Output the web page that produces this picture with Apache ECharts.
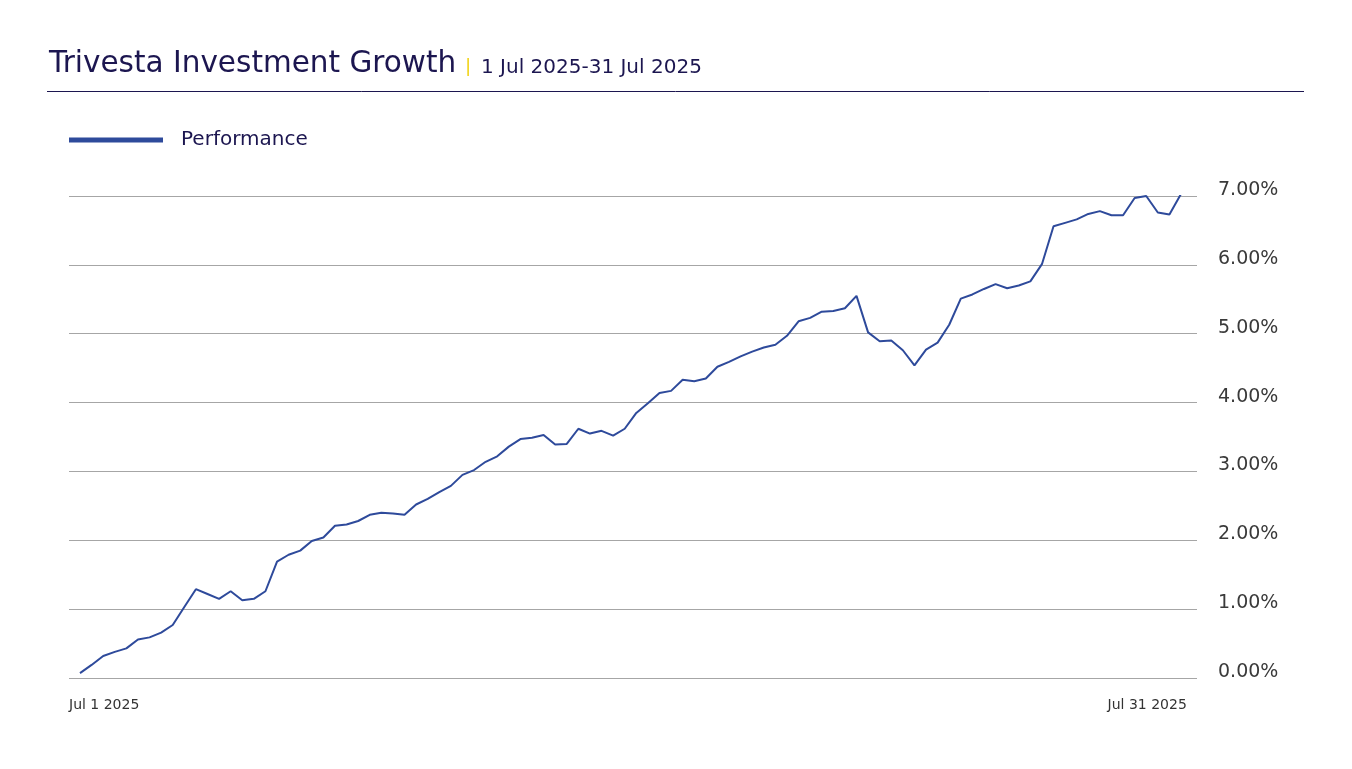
<!DOCTYPE html>
<html>
<head>
<meta charset="utf-8">
<script src="https://cdn.jsdelivr.net/npm/echarts@6/dist/echarts.min.js"></script>
<style>
  html, body { margin: 0; padding: 0; background: #ffffff; }
  #chart { width: 1352px; height: 769px; }
</style>
</head>
<body>
<div id="chart"></div>
<script>
// ---- Data ----
const titleText = 'Trivesta Investment Growth';
const subtitleText = '1 Jul 2025-31 Jul 2025';
const seriesName = 'Performance';
const xLabels = ['Jul 1 2025', 'Jul 31 2025'];
const yTicks = [0, 1, 2, 3, 4, 5, 6, 7];
const performance = [
  0.07, 0.19, 0.32, 0.38, 0.43, 0.56, 0.59, 0.66, 0.77, 1.03,
  1.29, 1.22, 1.15, 1.26, 1.13, 1.15, 1.26, 1.69, 1.79, 1.85,
  1.99, 2.04, 2.21, 2.23, 2.28, 2.37, 2.40, 2.39, 2.37, 2.52,
  2.60, 2.70, 2.79, 2.95, 3.02, 3.14, 3.22, 3.36, 3.47, 3.49,
  3.53, 3.39, 3.40, 3.62, 3.55, 3.59, 3.52, 3.62, 3.85, 3.99,
  4.14, 4.17, 4.33, 4.31, 4.35, 4.52, 4.59, 4.67, 4.74, 4.80,
  4.84, 4.97, 5.18, 5.23, 5.32, 5.33, 5.37, 5.55, 5.02, 4.89,
  4.90, 4.76, 4.54, 4.77, 4.87, 5.13, 5.51, 5.57, 5.65, 5.72,
  5.66, 5.70, 5.76, 6.01, 6.56, 6.61, 6.66, 6.74, 6.78, 6.72,
  6.72, 6.97, 7.00, 6.76, 6.73, 7.03
];

// ---- Chart ----
const FONT = 'DejaVu Sans';
const NAVY = '#1c1650';
const LINE = '#2e4a9b';
const xMin = -0.95, xMax = 96.38;
const xLabelPos = [xMin, 95.5];

const chart = echarts.init(document.getElementById('chart'));
chart.setOption({
  backgroundColor: '#ffffff',
  animation: false,
  textStyle: { fontFamily: FONT },
  title: {
    left: 44,
    top: 40,
    text: '{a|' + titleText + '}{s||}{b|' + subtitleText + '}',
    textStyle: {
      fontWeight: 'normal',
      rich: {
        a: { fontFamily: FONT, fontWeight: 'normal', fontSize: 29.5, color: NAVY, verticalAlign: 'bottom', lineHeight: 34 },
        s: { fontFamily: FONT, fontWeight: 'normal', fontSize: 17, color: '#f0cf00', padding: [0, 10, 3, 9], verticalAlign: 'bottom', lineHeight: 34 },
        b: { fontFamily: FONT, fontWeight: 'normal', fontSize: 20, color: NAVY, verticalAlign: 'bottom', lineHeight: 34, padding: [0, 0, 1, 0] }
      }
    }
  },
  graphic: [
    { type: 'line', shape: { x1: 47, y1: 91.5, x2: 1304, y2: 91.5 }, style: { stroke: NAVY, lineWidth: 1 } }
  ],
  legend: {
    left: 69,
    top: 130,
    padding: 0,
    icon: 'rect',
    itemWidth: 94,
    itemHeight: 5,
    data: [seriesName],
    textStyle: { fontFamily: FONT, fontSize: 20, color: NAVY, padding: [0, 0, 0, 13] }
  },
  grid: { left: 69, right: 155, top: 196, bottom: 91 },
  xAxis: {
    type: 'value',
    min: xMin,
    max: xMax,
    axisLine: { show: false },
    axisTick: { show: false },
    splitLine: { show: false },
    axisLabel: {
      customValues: xLabelPos,
      alignMinLabel: 'left',
      alignMaxLabel: 'right',
      margin: 20,
      fontFamily: FONT,
      fontSize: 14,
      color: '#333333',
      formatter: function (v) { return v < 50 ? xLabels[0] : xLabels[1]; }
    }
  },
  yAxis: {
    type: 'value',
    position: 'right',
    min: yTicks[0],
    max: yTicks[yTicks.length - 1],
    interval: 1,
    axisLine: { show: false },
    axisTick: { show: false },
    splitLine: { lineStyle: { color: '#a6a6a6', width: 1 } },
    axisLabel: {
      margin: 21,
      fontFamily: FONT,
      fontSize: 19,
      color: '#3a3a3a',
      verticalAlign: 'bottom',
      lineHeight: 12,
      formatter: function (v) { return v.toFixed(2) + '%'; }
    }
  },
  series: [{
    name: seriesName,
    type: 'line',
    showSymbol: false,
    symbol: 'none',
    data: performance.map(function (v, i) { return [i, v]; }),
    lineStyle: { color: LINE, width: 2 },
    itemStyle: { color: LINE }
  }]
});
</script>
</body>
</html>
